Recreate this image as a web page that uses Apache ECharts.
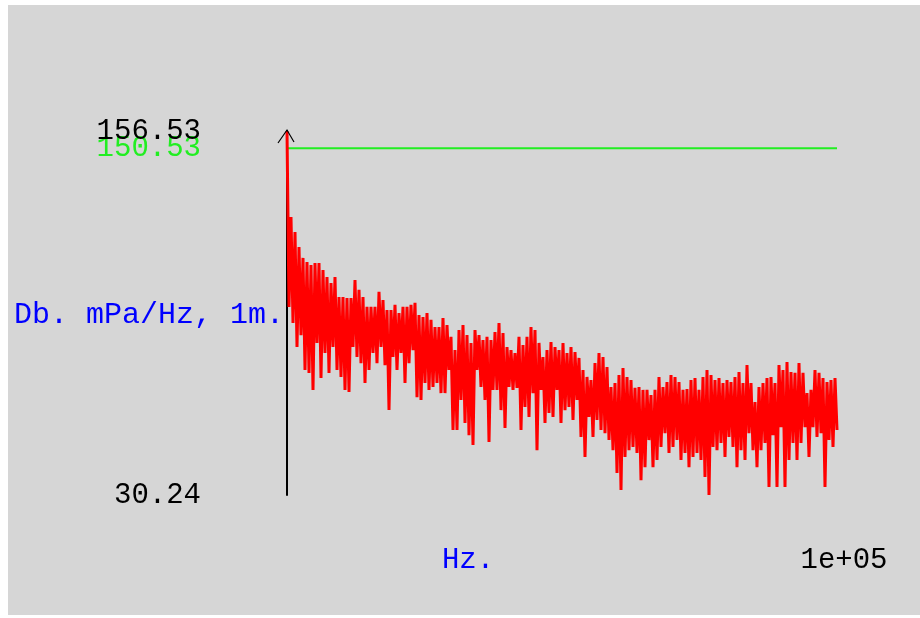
<!DOCTYPE html>
<html>
<head>
<meta charset="utf-8">
<script src="https://cdn.jsdelivr.net/npm/echarts@6/dist/echarts.min.js"></script>
<style>
html,body{margin:0;padding:0;background:#ffffff;}
#chart{width:920px;height:618px;}
</style>
</head>
<body>
<div id="chart"></div>
<script>
// ---- data ----
const freqMax = 100000;                    // Hz, right end of the axis
const yMin = 30.24;
const yMax = 156.53;
const thresholdDb = 150.53;                // green reference line
const yTickValues = [30.24, 150.53];
const yTickLabels = ['30.24', '150.53'];
const yMaxLabel = '156.53';
const xTickLabel = '1e+05';
const yAxisTitle = 'Db. mPa/Hz, 1m.';
const xAxisTitle = 'Hz.';

// upper envelope of the spectrum (dB), left to right
const spectrumHigh = [
  156.5,126.7,121.5,116.3,112.5,111.1,110.0,110.7,110.7,108.3,
  105.9,103.8,105.9,98.9,98.9,98.6,98.6,104.8,101.4,98.9,
  95.5,95.5,95.5,100.7,97.9,94.4,94.4,96.2,93.4,95.5,
  95.5,96.2,96.9,92.7,92.0,93.4,91.0,88.5,88.5,91.6,
  89.2,85.1,80.5,87.5,89.2,85.7,83.0,87.5,85.7,84.0,
  85.1,84.0,86.8,89.9,86.4,81.6,80.5,79.5,85.1,82.3,
  85.1,88.5,87.5,83.0,78.1,80.5,83.3,81.6,80.5,83.0,
  79.5,81.6,79.8,77.8,73.6,71.2,70.1,76.0,79.5,78.1,
  74.6,67.7,69.1,71.9,74.3,71.2,70.1,67.4,67.7,66.7,
  66.7,64.9,66.7,71.2,67.7,69.4,71.9,71.2,69.4,66.7,
  67.0,70.1,70.8,66.7,71.2,73.6,71.9,70.1,70.8,69.1,
  70.1,69.4,71.2,72.9,69.1,75.3,69.1,62.5,67.7,69.1,
  70.8,71.2,69.1,75.3,73.6,76.4,72.9,72.6,76.0,72.6,
  65.6,66.7,73.6,72.6,70.8,69.4,70.1,70.8
];
// lower dips of the spectrum (dB), left to right, between the highs
const spectrumLow = [
  95.5,89.9,81.6,85.7,73.6,72.6,66.7,83.0,70.8,79.5,
  72.6,81.6,73.6,71.2,66.7,66.0,81.6,78.1,76.0,69.1,
  73.6,79.5,76.0,81.6,75.3,59.7,78.1,73.6,79.5,69.1,
  76.0,80.5,64.2,63.2,69.1,66.7,67.7,69.1,65.6,65.6,
  73.6,52.8,52.8,63.2,55.2,51.0,47.6,73.6,67.7,63.2,
  48.6,66.7,66.7,59.7,53.5,67.7,66.7,67.4,52.8,60.8,
  57.3,65.6,45.8,66.7,55.2,58.7,57.3,66.7,55.2,59.7,
  60.8,56.3,63.2,50.4,43.4,57.3,50.4,56.3,52.8,51.7,
  49.3,45.8,37.9,32.0,43.4,45.8,46.9,44.8,35.4,39.9,
  49.3,39.9,42.4,46.9,51.7,44.8,46.9,49.3,42.4,44.8,
  39.9,43.4,44.8,42.4,36.5,30.24,46.9,45.8,48.3,43.4,
  50.4,46.9,39.9,45.8,42.4,51.7,45.8,39.9,45.8,48.3,
  33.0,51.0,33.0,53.8,33.0,42.4,48.3,42.4,48.3,53.8,
  43.4,53.8,50.4,51.7,33.0,49.3,46.9,52.8
];

// ---- build the series (interleave highs and lows along the frequency axis) ----
const nPts = spectrumHigh.length + spectrumLow.length;
const stepHz = freqMax / (nPts - 1);
const spectrum = [];
for (let k = 0; k < spectrumHigh.length; k++) {
  spectrum.push([(2 * k) * stepHz, spectrumHigh[k]]);
  spectrum.push([(2 * k + 1) * stepHz, spectrumLow[k]]);
}
const threshold = [[0, thresholdDb], [freqMax, thresholdDb]];

const FONT = '"Liberation Mono", "DejaVu Sans Mono", monospace';
const chart = echarts.init(document.getElementById('chart'), null, {renderer: 'canvas'});

const labelFmt = (vals, labels) => (v) => {
  const i = vals.findIndex(t => Math.abs(t - v) < 1e-6);
  const s = i >= 0 ? labels[i] : String(v);
  return Math.abs(v - thresholdDb) < 1e-6 ? '{g|' + s + '}' : '{k|' + s + '}';
};
const richStyles = {
  k: {color: '#000000', fontFamily: FONT, fontSize: 29},
  g: {color: '#22ee22', fontFamily: FONT, fontSize: 29}
};

const option = {
  animation: false,
  backgroundColor: '#ffffff',
  grid: {left: 287, right: 83, top: 131, bottom: 123, containLabel: false, outerBoundsMode: 'none'},
  xAxis: {
    type: 'value', min: 0, max: freqMax,
    axisLine: {show: false}, axisTick: {show: false}, splitLine: {show: false},
    axisLabel: {
      customValues: [freqMax],
      formatter: () => xTickLabel,
      margin: 65, verticalAlign: 'middle', align: 'center',
      padding: [0, 0, 0, 14], hideOverlap: false,
      color: '#000000', fontFamily: FONT, fontSize: 29
    }
  },
  yAxis: [
    {
      type: 'value', min: yMin, max: yMax,
      axisLine: {show: true, lineStyle: {color: '#000000', width: 2}},
      axisTick: {show: false}, splitLine: {show: false},
      axisLabel: {
        customValues: yTickValues, margin: 86, hideOverlap: false,
        formatter: labelFmt(yTickValues, yTickLabels), rich: richStyles
      }
    },
    {
      type: 'value', min: yMin, max: yMax, position: 'left',
      axisLine: {show: false}, axisTick: {show: false}, splitLine: {show: false},
      axisLabel: {
        customValues: [yMax], margin: 86, hideOverlap: false,
        formatter: labelFmt([yMax], [yMaxLabel]), rich: richStyles
      }
    }
  ],
  graphic: [
    {type: 'rect', z: -10, silent: true, shape: {x: 8, y: 5, width: 912, height: 610}, style: {fill: '#d6d6d6'}},
    {type: 'text', silent: true, style: {text: xAxisTitle, x: 468, y: 560, align: 'center', verticalAlign: 'middle',
      fill: '#0000ff', font: '29px ' + FONT}},
    {type: 'text', silent: true, style: {text: yAxisTitle, x: 284, y: 315, align: 'right', verticalAlign: 'middle',
      fill: '#0000ff', font: '30px ' + FONT}}
  ],
  series: [
    {type: 'line', data: threshold, showSymbol: false, z: 2,
     lineStyle: {color: '#22ee22', width: 2}},
    {type: 'line', data: spectrum, showSymbol: false, z: 3, clip: true,
     lineStyle: {color: '#ff0000', width: 3, join: 'bevel'}}
  ]
};
chart.setOption(option);

// open arrow head at the top of the value axis
const apex = chart.convertToPixel({gridIndex: 0}, [0, yMax]);
chart.setOption({
  graphic: option.graphic.concat([
    {type: 'polyline', silent: true, z: 10,
     shape: {points: [[apex[0] - 9, apex[1] + 12], [apex[0], apex[1] - 1], [apex[0] + 7, apex[1] + 11]]},
     style: {stroke: '#000000', lineWidth: 1.2, fill: null}}
  ])
});
</script>
</body>
</html>
